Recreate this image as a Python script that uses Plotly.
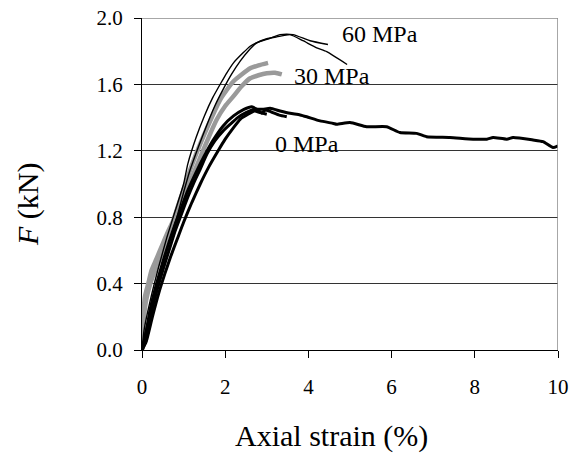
import plotly.graph_objects as go

# 60 MPa (thin black)
s60a = [0, 0.05, 0.2, 0.4, 0.6, 0.8, 1.0, 1.1, 1.3, 1.5, 1.7, 1.9, 2.04, 2.2, 2.43, 2.6, 2.79, 3.08, 3.32, 3.63, 4.04, 4.47]
f60a = [0, 0.12, 0.3, 0.5, 0.68, 0.84, 1.0, 1.12, 1.28, 1.41, 1.52, 1.61, 1.67, 1.73, 1.79, 1.83, 1.855, 1.878, 1.9, 1.9, 1.863, 1.84]
s60b = [0, 0.07, 0.25, 0.45, 0.65, 0.84, 1.0, 1.15, 1.35, 1.55, 1.75, 1.95, 2.15, 2.36, 2.55, 2.76, 3.0, 3.24, 3.56, 3.87, 4.2, 4.44, 4.93]
f60b = [0, 0.1, 0.28, 0.47, 0.65, 0.8, 0.95, 1.08, 1.22, 1.35, 1.47, 1.57, 1.66, 1.74, 1.8, 1.85, 1.875, 1.886, 1.9, 1.863, 1.82, 1.797, 1.72]

# 30 MPa (thick grey)
s30a = [0, 0.03, 0.07, 0.15, 0.23, 0.35, 0.5, 0.62, 0.75, 0.87, 0.99, 1.15, 1.3, 1.55, 1.875, 2.19, 2.6, 2.8, 3.03]
f30a = [0, 0.2, 0.32, 0.4, 0.48, 0.55, 0.64, 0.71, 0.78, 0.87, 0.96, 1.08, 1.18, 1.33, 1.506, 1.616, 1.697, 1.715, 1.73]
s30b = [0, 0.04, 0.1, 0.2, 0.3, 0.45, 0.6, 0.75, 0.9, 1.05, 1.2, 1.4, 1.6, 1.8, 2.0, 2.19, 2.4, 2.6, 2.8, 3.0, 3.2, 3.36]
f30b = [0, 0.18, 0.3, 0.4, 0.47, 0.56, 0.65, 0.75, 0.85, 0.95, 1.04, 1.16, 1.28, 1.39, 1.47, 1.526, 1.59, 1.637, 1.655, 1.667, 1.67, 1.66]

# 0 MPa (thick black)
s0a = [0, 0.1, 0.2, 0.35, 0.5, 0.65, 0.8, 0.95, 1.1, 1.25, 1.4, 1.56, 1.75, 1.95, 2.12, 2.3, 2.5, 2.7, 2.9, 3.08, 3.32, 3.56, 3.8, 3.96,
       4.28, 4.6, 4.68, 5.0, 5.4, 5.88, 6.2, 6.6, 6.84, 7.4, 7.96, 8.29, 8.44, 8.77, 8.92, 9.4, 9.64, 9.88, 10.0]
f0a = [0, 0.06, 0.2, 0.35, 0.48, 0.6, 0.72, 0.82, 0.92, 1.01, 1.09, 1.18, 1.26, 1.32, 1.36, 1.4, 1.43, 1.45, 1.45, 1.456, 1.44, 1.426, 1.416, 1.405,
       1.38, 1.365, 1.36, 1.37, 1.345, 1.345, 1.31, 1.305, 1.285, 1.28, 1.27, 1.27, 1.28, 1.27, 1.28, 1.265, 1.255, 1.22, 1.23]
s0b = [0, 0.08, 0.2, 0.35, 0.5, 0.65, 0.8, 0.95, 1.1, 1.3, 1.5, 1.7, 1.95, 2.2, 2.45, 2.64, 2.76, 2.88, 2.96, 3.1, 3.3, 3.48]
f0b = [0, 0.08, 0.25, 0.4, 0.53, 0.65, 0.76, 0.86, 0.96, 1.07, 1.17, 1.26, 1.35, 1.41, 1.45, 1.466, 1.45, 1.426, 1.446, 1.435, 1.415, 1.405]
s0c = [0, 0.1, 0.25, 0.4, 0.55, 0.7, 0.85, 1.0, 1.2, 1.4, 1.6, 1.83, 2.0, 2.2, 2.36, 2.55, 2.7, 2.85, 3.0]
f0c = [0, 0.05, 0.2, 0.34, 0.46, 0.57, 0.67, 0.77, 0.89, 1.0, 1.1, 1.2, 1.27, 1.34, 1.39, 1.42, 1.44, 1.43, 1.42]

x_ticks = [0, 2, 4, 6, 8, 10]
y_ticks = [0.0, 0.4, 0.8, 1.2, 1.6, 2.0]
y_tick_labels = ["0.0", "0.4", "0.8", "1.2", "1.6", "2.0"]

FONT = "Times New Roman, Liberation Serif, serif"

fig = go.Figure()
for s, f in [(s30a, f30a), (s30b, f30b)]:
    fig.add_trace(go.Scatter(x=s, y=f, mode="lines", line=dict(color="#9a9a9a", width=4.5, shape="spline", smoothing=0.5)))
for s, f in [(s0a, f0a), (s0b, f0b), (s0c, f0c)]:
    fig.add_trace(go.Scatter(x=s, y=f, mode="lines", line=dict(color="black", width=3, shape="spline", smoothing=0.5)))
for s, f in [(s60a, f60a), (s60b, f60b)]:
    fig.add_trace(go.Scatter(x=s, y=f, mode="lines", line=dict(color="black", width=1.4, shape="spline", smoothing=0.5)))

# right border and top gridline (grey)
fig.add_shape(type="line", xref="x", yref="y", x0=10, x1=10, y0=0, y1=2.0,
              line=dict(color="#8a8a8a", width=1.5), layer="above")
fig.add_shape(type="line", xref="x", yref="y", x0=0, x1=10, y0=2.0, y1=2.0,
              line=dict(color="#8a8a8a", width=1.5), layer="below")

for txt, xv, yv in [("60 MPa", 4.76, 1.904), ("30 MPa", 3.6, 1.648), ("0 MPa", 3.15, 1.238)]:
    fig.add_annotation(x=xv, y=yv, xref="x", yref="y", text=txt, showarrow=False,
                       xanchor="left", yanchor="middle", font=dict(family=FONT, size=24, color="black"))

fig.add_annotation(x=-0.274, y=0.4367, xref="paper", yref="paper", text="<i>F</i> (kN)", textangle=-90,
                   showarrow=False, xanchor="center", yanchor="middle", font=dict(family=FONT, size=30, color="black"))
fig.add_annotation(x=0.4567, y=-0.259, xref="paper", yref="paper", text="Axial strain (%)",
                   showarrow=False, xanchor="center", yanchor="middle", font=dict(family=FONT, size=30, color="black"))

fig.update_layout(
    width=569, height=453,
    margin=dict(l=142, r=11, t=18, b=103),
    paper_bgcolor="white", plot_bgcolor="white",
    showlegend=False,
    hovermode=False,
    font=dict(family=FONT, size=21, color="black"),
    xaxis=dict(range=[0, 10], tickvals=x_ticks, ticks="outside", ticklen=7, tickcolor="black",
               showline=True, linecolor="black", linewidth=1, showgrid=False, zeroline=False, automargin=False,
               ticklabeloverflow="allow", ticklabelstandoff=11, tickfont=dict(family=FONT, size=21, color="black")),
    yaxis=dict(range=[0, 2.0], tickvals=y_ticks, ticktext=y_tick_labels, ticks="outside", ticklen=7, tickcolor="black",
               showline=True, linecolor="black", linewidth=1, showgrid=True, gridcolor="#333333", gridwidth=1,
               zeroline=False, automargin=False, ticklabeloverflow="allow", ticklabelstandoff=7,
               tickfont=dict(family=FONT, size=21, color="black")),
)

# remove the browser's default 8px body margin so the figure fills the window
fig.write_html("out.html", config={"displayModeBar": False, "staticPlot": True},
               post_script="document.body.style.margin='0';")
